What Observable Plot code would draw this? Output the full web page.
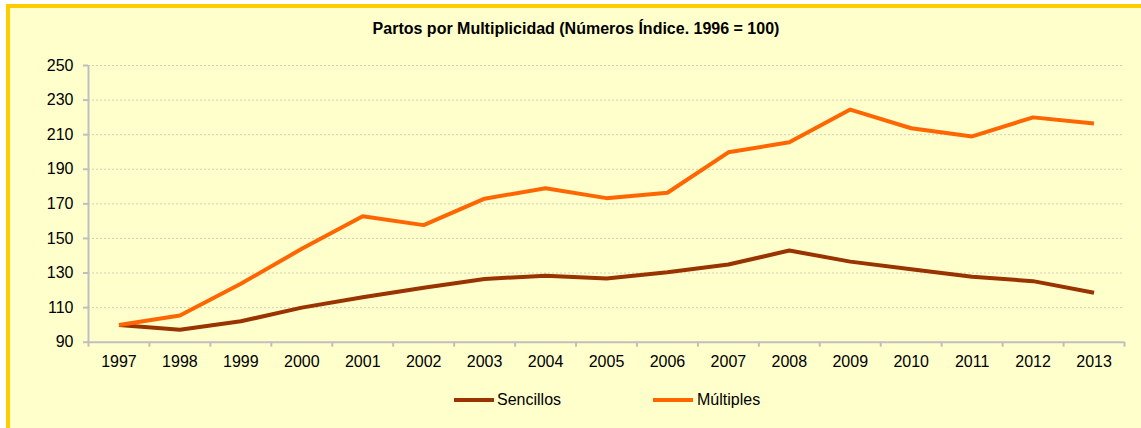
<!DOCTYPE html>
<html>
<head>
<meta charset="utf-8">
<script src="https://cdn.jsdelivr.net/npm/d3@7"></script>
<script src="https://cdn.jsdelivr.net/npm/@observablehq/plot@0.6"></script>
<style>
  html, body { margin: 0; padding: 0; background: #ffffff; overflow: hidden; }
  body { width: 1141px; height: 428px; position: relative; font-family: "Liberation Sans", Arial, sans-serif; }
  #frame { position: absolute; left: 6px; top: 4px; width: 1200px; height: 500px;
           border-left: 4px solid #FFCC00; border-top: 4px solid #FFCC00; background: #FFFFCC; }
  #title { position: absolute; left: 576px; top: 21px; transform: translateX(-50%); white-space: nowrap;
           font-weight: bold; font-size: 16px; line-height: 16px; color: #000; }
  #chart { position: absolute; left: 0; top: 50px; }
  .leg { position: absolute; top: 392px; font-size: 16px; line-height: 16px; color: #000; white-space: nowrap; }
  .sw { position: absolute; top: 398px; width: 40px; height: 4px; }
</style>
</head>
<body>
<div id="frame"></div>
<div id="title">Partos por Multiplicidad (Números Índice. 1996 = 100)</div>
<div id="chart"></div>
<div class="sw" id="sw0" style="left:454px;"></div>
<div class="leg" id="lg0" style="left:497px;"></div>
<div class="sw" id="sw1" style="left:653px;"></div>
<div class="leg" id="lg1" style="left:697px;"></div>
<script>
const years = [1997, 1998, 1999, 2000, 2001, 2002, 2003, 2004, 2005, 2006, 2007, 2008, 2009, 2010, 2011, 2012, 2013];
const sencillos = [100, 97.2, 102.1, 110, 116, 121.5, 126.6, 128.4, 126.9, 130.5, 134.9, 143, 136.6, 132.2, 127.8, 125.3, 118.6];
const multiples = [100, 105.4, 123.8, 144, 162.8, 157.7, 173, 179, 173.3, 176.4, 199.8, 205.6, 224.5, 213.7, 209, 220, 216.4];
const seriesNames = ["Sencillos", "Múltiples"];
const seriesColors = ["#993300", "#FF6600"];
const yTicks = [90, 110, 130, 150, 170, 190, 210, 230, 250];

const rows = [];
years.forEach((yr, i) => {
  rows.push({year: yr, value: sencillos[i], serie: seriesNames[0]});
  rows.push({year: yr, value: multiples[i], serie: seriesNames[1]});
});
const bounds = [years[0] - 0.5, ...years.map(y => y + 0.5)];
const axisColor = "#BFBFBF";

const chart = Plot.plot({
  width: 1141,
  height: 320,
  marginLeft: 88,
  marginRight: 17,
  marginTop: 15,
  marginBottom: 28.3,
  style: { background: "transparent", fontFamily: "'Liberation Sans', Arial, sans-serif", fontSize: "16px", color: "#000" },
  x: { domain: [bounds[0], bounds[bounds.length - 1]] },
  y: { domain: [90, 250] },
  color: { domain: seriesNames, range: seriesColors },
  marks: [
    Plot.gridY(yTicks.slice(1), { stroke: "#CFCFB8", strokeOpacity: 1, strokeDasharray: "2,2", strokeWidth: 1 }),
    Plot.axisY(yTicks, { tickSize: 5, tickPadding: 10, stroke: axisColor, strokeWidth: 2, fill: "#000", label: null, tickFormat: d => String(d) }),
    Plot.axisX(years, { tickSize: 0, tickPadding: 13.5, fill: "#000", label: null, tickFormat: d => String(d) }),
    Plot.axisX(bounds, { tickSize: 5, tickPadding: 0, stroke: axisColor, strokeWidth: 2, label: null, tickFormat: () => "" }),
    Plot.ruleY([90], { stroke: axisColor, strokeWidth: 2 }),
    Plot.ruleX([bounds[0]], { stroke: axisColor, strokeWidth: 2 }),
    Plot.line(rows, { x: "year", y: "value", z: "serie", stroke: "serie", strokeWidth: 4, strokeLinejoin: "round", strokeLinecap: "butt" })
  ]
});
document.getElementById("chart").appendChild(chart);

seriesNames.forEach((n, i) => {
  document.getElementById("sw" + i).style.background = seriesColors[i];
  document.getElementById("lg" + i).textContent = n;
});
</script>
</body>
</html>
